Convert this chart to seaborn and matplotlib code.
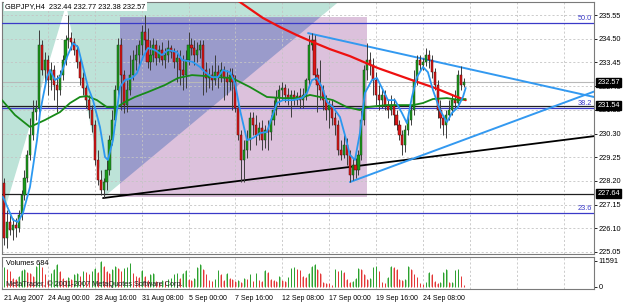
import matplotlib
matplotlib.use("Agg")
import matplotlib.pyplot as plt
import matplotlib.transforms as mtransforms
from matplotlib.patches import Polygon, Rectangle
import numpy as np
import pandas as pd
import seaborn as sns

sns.set_style("white")
plt.rcParams['font.family'] = ['Liberation Sans', 'DejaVu Sans']

# ---------------- data (GBPJPY H4, bar index 0 = 21 Aug 2007 12:00) ----------------
opens = [228.11, 225.67, 226.38, 226.02, 226.25, 226.11, 226.69, 227.58, 228.33, 229.35,
         230.23, 231.25, 231.43, 234.22, 233.11, 233.56, 232.67, 233.11, 232.45, 232.23,
         232.89, 233.56, 234.44, 234.53, 234.35, 234.00, 233.47, 232.76, 232.32, 231.78,
         231.34, 230.68, 229.13, 228.24, 227.80, 228.15, 228.68, 230.01, 230.90, 232.23,
         234.22, 232.89, 231.56, 232.23, 232.89, 233.56, 233.78, 234.22, 234.80, 234.44,
         233.47, 233.78, 234.22, 233.65, 234.00, 233.56, 233.78, 234.09, 233.91, 233.47,
         233.65, 233.11, 232.89, 233.56, 234.22, 234.09, 233.78, 234.00, 234.22, 233.11,
         232.76, 232.89, 232.67, 233.02, 232.85, 233.11, 232.76, 232.58, 232.89, 232.58,
         231.43, 230.23, 229.13, 229.57, 230.01, 230.99, 230.68, 230.23, 230.54, 230.01,
         230.46, 230.37, 230.90, 231.34, 231.87, 232.23, 232.32, 232.01, 231.87, 232.01,
         231.78, 231.96, 231.78, 232.01, 232.67, 234.22, 234.44, 232.89, 232.45, 232.23,
         231.78, 231.34, 231.56, 230.99, 230.68, 229.57, 229.35, 229.79, 229.35, 228.46,
         228.91, 228.68, 229.35, 230.90, 233.11, 233.56, 233.33, 232.67, 232.01, 231.78,
         232.01, 231.56, 231.34, 231.56, 231.12, 230.68, 230.23, 229.79, 230.46, 230.90,
         231.34, 232.67, 233.56, 233.33, 233.47, 233.78, 233.56, 233.02, 232.45, 231.34,
         230.99, 230.68, 231.12, 231.34, 231.78, 231.65, 232.89, 232.44]
highs = [228.33, 226.91, 226.69, 226.56, 226.56, 226.91, 227.80, 228.68, 229.57, 230.99,
         231.78, 231.78, 234.89, 234.44, 233.91, 233.78, 233.47, 233.33, 232.89, 233.11,
         233.78, 234.66, 235.55, 234.80, 234.53, 234.22, 233.65, 233.02, 232.45, 232.01,
         231.56, 230.90, 229.57, 228.68, 228.33, 229.13, 230.23, 231.34, 232.45, 234.53,
         234.53, 233.11, 232.67, 233.78, 234.00, 234.22, 234.44, 235.11, 235.55, 234.97,
         234.44, 234.53, 234.44, 234.22, 234.35, 234.09, 234.44, 234.22, 234.09, 234.00,
         234.00, 233.78, 234.00, 234.80, 234.53, 234.44, 234.35, 234.44, 234.44, 233.47,
         233.20, 233.33, 233.78, 233.33, 233.47, 233.29, 233.11, 233.20, 233.20, 232.89,
         231.78, 230.46, 230.01, 230.46, 231.25, 231.25, 231.12, 230.81, 230.90, 230.68,
         230.90, 231.12, 231.78, 232.23, 232.45, 232.58, 232.49, 232.32, 232.23, 232.23,
         232.14, 232.32, 232.32, 232.76, 234.66, 234.75, 234.66, 233.20, 233.56, 232.45,
         232.01, 231.78, 231.78, 231.25, 230.90, 230.01, 230.23, 230.10, 229.57, 229.22,
         229.22, 229.57, 231.34, 233.33, 234.31, 233.91, 233.65, 233.02, 232.45, 232.32,
         232.23, 231.78, 232.01, 231.87, 231.34, 230.90, 230.46, 230.68, 231.12, 231.56,
         233.11, 233.78, 233.78, 233.65, 234.09, 234.00, 233.78, 233.20, 232.67, 231.78,
         231.12, 231.34, 231.78, 232.01, 232.23, 233.11, 233.29, 232.77]
lows = [225.36, 225.23, 225.80, 225.58, 225.72, 225.94, 226.47, 227.35, 228.15, 229.13,
        230.01, 230.90, 231.25, 232.89, 232.45, 232.01, 232.23, 231.78, 231.25, 232.01,
        232.67, 233.33, 234.09, 234.00, 233.78, 233.20, 232.45, 232.01, 231.43, 230.99,
        230.37, 228.91, 228.02, 227.58, 227.44, 227.80, 228.46, 229.79, 230.68, 232.01,
        231.34, 231.21, 231.25, 232.01, 232.67, 233.11, 233.33, 233.78, 234.00, 233.20,
        233.11, 233.47, 233.33, 233.47, 233.33, 233.20, 233.47, 233.65, 233.20, 232.58,
        232.45, 232.23, 232.32, 233.33, 233.78, 233.33, 233.47, 233.65, 232.01, 232.14,
        232.32, 232.23, 232.45, 232.32, 232.58, 231.78, 232.01, 232.23, 231.34, 231.25,
        230.01, 228.15, 228.15, 229.22, 229.57, 230.23, 229.79, 230.01, 229.57, 229.66,
        229.57, 230.01, 230.68, 231.12, 231.56, 231.78, 231.70, 231.56, 231.03, 231.56,
        231.56, 231.43, 231.43, 231.78, 232.45, 234.00, 232.67, 231.25, 231.78, 231.34,
        230.90, 230.54, 230.68, 230.23, 229.35, 229.13, 229.22, 228.91, 228.15, 228.24,
        228.33, 228.46, 229.13, 230.68, 232.67, 232.89, 232.01, 231.56, 231.34, 231.43,
        231.34, 230.99, 231.12, 230.68, 230.46, 230.01, 229.35, 229.48, 230.23, 230.68,
        231.12, 232.45, 233.11, 233.11, 233.29, 233.20, 232.76, 232.23, 230.99, 230.54,
        230.23, 230.10, 230.90, 231.12, 231.43, 231.56, 232.23, 232.38]
closes = [225.67, 226.38, 226.02, 226.25, 226.11, 226.69, 227.58, 228.33, 229.35, 230.23,
          231.25, 231.43, 234.22, 233.11, 233.56, 232.67, 233.11, 232.45, 232.23, 232.89,
          233.56, 234.44, 234.53, 234.35, 234.00, 233.47, 232.76, 232.32, 231.78, 231.34,
          230.68, 229.13, 228.24, 227.80, 228.15, 228.68, 230.01, 230.90, 232.23, 234.22,
          232.89, 231.56, 232.23, 232.89, 233.56, 233.78, 234.22, 234.80, 234.44, 233.47,
          233.78, 234.22, 233.65, 234.00, 233.56, 233.78, 234.09, 233.91, 233.47, 233.65,
          233.11, 232.89, 233.56, 234.22, 234.09, 233.78, 234.00, 234.22, 233.11, 232.76,
          232.89, 232.67, 233.02, 232.85, 233.11, 232.76, 232.58, 232.89, 232.58, 231.43,
          230.23, 229.13, 229.57, 230.01, 230.99, 230.68, 230.23, 230.54, 230.01, 230.46,
          230.37, 230.90, 231.34, 231.87, 232.23, 232.32, 232.01, 231.87, 232.01, 231.78,
          231.96, 231.78, 232.01, 232.67, 234.22, 234.44, 232.89, 232.45, 232.23, 231.78,
          231.34, 231.56, 230.99, 230.68, 229.57, 229.35, 229.79, 229.35, 228.46, 228.91,
          228.68, 229.35, 230.90, 233.11, 233.56, 233.33, 232.67, 232.01, 231.78, 232.01,
          231.56, 231.34, 231.56, 231.12, 230.68, 230.23, 229.79, 230.46, 230.90, 231.34,
          232.67, 233.56, 233.33, 233.47, 233.78, 233.56, 233.02, 232.45, 231.34, 230.99,
          230.68, 231.12, 231.34, 231.78, 231.65, 232.89, 232.44, 232.57]
volumes = [9000, 8000, 7000, 4000, 3500, 5000, 7500, 8000, 6500, 6000,
           5000, 9500, 10500, 9000, 5500, 3000, 6000, 8000, 10000, 7000,
           4000, 3000, 4500, 3500, 5500, 6000, 5000, 7000, 6500, 5500,
           7000, 8500, 6500, 11591, 9500, 7000, 6000, 8000, 9500, 8500,
           7000, 8500, 9000, 10500, 6000, 5000, 4500, 7500, 5000, 3000,
           5500, 6000, 2500, 2000, 3000, 2500, 3500, 4000, 5500, 6000,
           4000, 6000, 7500, 3500, 3000, 4000, 9000, 10000, 8000, 5500,
           3000, 2500, 3500, 7500, 5500, 3000, 6000, 4000, 3500, 2500,
           3000, 2000, 4000, 3500, 5500, 2500, 6000, 3000, 2500, 7500,
           6500, 3500, 3000, 2500, 5000, 3000, 2500, 4500, 8500, 9000,
           8000, 7500, 5000, 4500, 6000, 9500, 10000, 8000, 6000, 2000,
           1500, 1500, 1000, 8000, 7000, 7500, 6500, 3500, 2000, 2500,
           4000, 8500, 8000, 5500, 3500, 4000, 9000, 9500, 7000, 2000,
           1800, 4500, 9500, 9000, 8000, 3500, 3000, 3500, 9500, 8000,
           5500, 4500, 1500, 1200, 2000, 6500, 5500, 2500, 1800, 2000,
           6500, 8000, 2000, 2200, 7500, 7800, 5000, 684]

# moving averages (bar, price)
ma_fast_bar = [-0.34, 3.07, 4.78, 6.48, 8.87, 9.90, 11.26, 12.29, 13.31, 14.68, 15.70, 17.41, 19.11,
               21.50, 23.55, 25.26, 26.96, 28.67, 30.38, 32.76, 34.47, 35.49, 37.20, 38.57, 39.59,
               41.30, 43.69, 45.39, 47.44, 49.15, 51.54, 53.92, 55.97, 59.04, 60.75, 64.51, 66.89,
               68.60, 70.99, 73.04, 74.74, 77.13, 78.84, 80.55, 82.94, 84.98, 87.37, 89.76, 91.47,
               93.17, 95.22, 98.63, 101.71, 103.41, 105.12, 106.83, 108.53, 110.24, 112.29, 114.68,
               116.38, 118.09, 119.80, 121.50, 123.21, 125.60, 127.30, 129.01, 131.06, 133.45,
               135.84, 137.54, 139.25, 140.96, 143.00, 144.71, 146.42, 148.81, 151.19, 152.90,
               154.95, 156.66, 157.6]
ma_fast_val = [227.49, 226.47, 226.38, 226.78, 227.93, 228.82, 230.01, 231.21, 231.92, 232.80, 233.11,
               232.67, 232.80, 233.69, 234.31, 234.13, 233.25, 232.36, 231.78, 230.59, 229.26, 229.13,
               230.01, 231.34, 232.36, 232.67, 232.76, 232.98, 233.69, 234.09, 234.00, 233.78, 234.00,
               233.91, 233.56, 233.47, 233.25, 233.02, 232.80, 232.80, 233.11, 233.02, 232.54, 231.34,
               230.01, 230.10, 230.32, 230.37, 231.03, 231.65, 231.78, 231.78, 231.87, 232.10, 232.67,
               232.76, 232.36, 231.70, 231.47, 231.03, 230.23, 229.35, 229.13, 230.32, 232.10, 232.67,
               232.76, 232.32, 231.78, 231.78, 231.21, 230.76, 231.92, 232.80, 233.25, 233.02, 232.23,
               231.34, 230.81, 231.21, 231.47, 231.92, 232.32]
ma_mid_bar = [-0.68, 3.75, 8.87, 13.99, 19.11, 22.53, 25.94, 28.33, 31.74, 35.15, 38.57, 41.30, 44.71,
              49.15, 54.95, 59.39, 64.16, 68.60, 73.04, 77.82, 83.96, 89.76, 95.22, 101.02, 104.44,
              107.85, 112.29, 117.06, 121.50, 123.89, 130.72, 139.59, 143.00, 146.42, 151.19, 155.63, 157.6]
ma_mid_val = [231.78, 231.12, 230.59, 230.90, 231.25, 231.65, 231.92, 231.96, 231.78, 231.47, 231.47,
              231.70, 231.92, 232.14, 232.45, 232.76, 232.89, 232.85, 232.80, 232.76, 232.36, 231.92,
              231.87, 231.87, 232.01, 231.92, 231.78, 231.47, 231.34, 231.47, 231.56, 231.56, 231.65,
              231.83, 231.87, 231.78, 231.83]
ma_slow_bar = [77.13, 79.52, 88.40, 94.20, 100.00, 105.46, 111.26, 118.09, 127.65, 139.25, 147.10, 153.90, 157.6]
ma_slow_val = [236.35, 236.22, 235.42, 235.02, 234.66, 234.35, 234.04, 233.73, 233.20, 232.67, 232.32, 231.96, 231.78]

# chart objects (time in bars, price)
teal_bar = [-2.0, 118.5, 34.5, 21.2, -2.0]
teal_price = [236.6, 236.6, 227.53, 236.0, 225.94]
rect_bar = [39.6, 123.9]
rect_price = [227.49, 235.46]
black_ray = [(33.8, 227.44), (118.1, 228.82)]
blue_upper = [(103.8, 234.75), (198.3, 232.01)]
blue_lower = [(118.1, 228.15), (198.3, 232.01)]
fib_levels = [235.20, 231.45, 226.78]
fib_labels = ["50.0", "38.2", "23.6"]
hline_black = [231.54, 227.64]
bid_price = 232.57

tick_bars = [0, 15, 31, 47, 63, 79, 95, 111, 127, 143]
tick_labels = ["21 Aug 2007", "24 Aug 00:00", "28 Aug 16:00", "31 Aug 08:00", "5 Sep 00:00",
               "7 Sep 16:00", "12 Sep 08:00", "17 Sep 00:00", "19 Sep 16:00", "24 Sep 08:00"]
grid_bars = [15, 31, 47, 63, 79, 95, 111, 127, 143, 159, 175, 191]
price_ticks = [235.55, 234.50, 233.45, 232.40, 231.35, 230.30, 229.25, 228.20, 227.15, 226.10, 225.05]
vol_max_label = 11591

# ---------------- layout ----------------
W, H = 625, 305
fig = plt.figure(figsize=(W / 100, H / 100), dpi=100)
fig.patch.set_facecolor('white')

def frect(x0, y0, x1, y1):
    return [x0 / W, 1 - y1 / H, (x1 - x0) / W, (y1 - y0) / H]

ax = fig.add_axes(frect(2, 2, 594, 254))
ax2 = fig.add_axes(frect(2, 257, 594, 289), sharex=ax)
XMIN, XMAX = -0.68, 201.4
ax.set_xlim(XMIN, XMAX)
ax.set_ylim(224.96, 236.13)
ax2.set_ylim(-1000, 13300)

FS = 5.3
grid_kw = dict(color='#c4c4c4', lw=0.6, ls=(0, (2.5, 2.5)))

# shaded objects
ax.add_patch(Polygon(list(zip(teal_bar, teal_price)), closed=True, fc='#bde3d8', ec='none', zorder=0))
ax.add_patch(Rectangle((rect_bar[0], rect_price[0]), rect_bar[1] - rect_bar[0],
                       rect_price[1] - rect_price[0], fc='#dcc1dc', ec='none', zorder=0.5))
# overlap of teal triangle and rectangle
s = (teal_price[1] - teal_price[2]) / (teal_bar[1] - teal_bar[2])
y_left = teal_price[2] + (rect_bar[0] - teal_bar[2]) * s
x_top = teal_bar[2] + (rect_price[1] - teal_price[2]) / s
ax.add_patch(Polygon([(rect_bar[0], rect_price[1]), (x_top, rect_price[1]), (rect_bar[0], y_left)],
                     closed=True, fc='#9a9bcb', ec='none', zorder=0.6))

# grid
for p in price_ticks:
    ax.axhline(p, zorder=1, **grid_kw)
for b in grid_bars:
    ax.axvline(b, zorder=1, **grid_kw)
    ax2.axvline(b, zorder=1, **grid_kw)

# horizontal lines
for lvl, lab in zip(fib_levels, fib_labels):
    ax.axhline(lvl, color='#3a3ac8', lw=0.9, zorder=3)
    ax.text(0.997, lvl + 0.04, lab, transform=mtransforms.blended_transform_factory(ax.transAxes, ax.transData),
            ha='right', va='bottom', fontsize=FS, color='#3a3ac8', zorder=7)
for lvl in hline_black:
    ax.axhline(lvl, color='#202020', lw=0.9, zorder=3)
ax.axhline(bid_price, color='#b8b8b8', lw=0.8, zorder=2.5)

# trend lines (rays to the right edge)
def ray(pts):
    (x0, y0), (x1, y1) = pts
    k = (y1 - y0) / (x1 - x0)
    return [x0, XMAX + 1], [y0, y0 + k * (XMAX + 1 - x0)]

xs, ys = ray(black_ray)
ax.plot(xs, ys, color='black', lw=1.3, zorder=4)
for pts in (blue_upper, blue_lower):
    xs, ys = ray(pts)
    ax.plot(xs, ys, color='#3399f0', lw=1.4, zorder=4)

# candles
df = pd.DataFrame({'o': opens, 'h': highs, 'l': lows, 'c': closes})
df['i'] = np.arange(len(df))
up = df['c'] >= df['o']
ax.vlines(df['i'], df['l'], df['h'], color='#3c3c3c', lw=0.7, zorder=5)
body_bot = df[['o', 'c']].min(axis=1)
body_h = (df['c'] - df['o']).abs().clip(lower=0.03)
ax.bar(df['i'][up], body_h[up], bottom=body_bot[up], width=0.72, color='#189a18',
       edgecolor='#1f3f1f', linewidth=0.35, zorder=5.5)
ax.bar(df['i'][~up], body_h[~up], bottom=body_bot[~up], width=0.72, color='#dd1515',
       edgecolor='#4a1010', linewidth=0.35, zorder=5.5)

# moving averages via seaborn
sns.lineplot(x=ma_slow_bar, y=ma_slow_val, ax=ax, color='#ee1010', lw=1.6, sort=False,
             estimator=None, legend=False, zorder=6)
sns.lineplot(x=ma_mid_bar, y=ma_mid_val, ax=ax, color='#178a17', lw=1.3, sort=False,
             estimator=None, legend=False, zorder=6)
sns.lineplot(x=ma_fast_bar, y=ma_fast_val, ax=ax, color='#2b98f0', lw=1.3, sort=False,
             estimator=None, legend=False, zorder=6.2)

# volumes
vol = pd.DataFrame({'i': np.arange(len(volumes)), 'v': volumes})
vup = vol['v'].diff().fillna(1) > 0
ax2.bar(vol['i'][vup], vol['v'][vup], width=0.9, color='#7fcc7f', zorder=3)
ax2.bar(vol['i'][~vup], vol['v'][~vup], width=0.9, color='#f19494', zorder=3)
ax2.vlines(vol['i'][vup], 0, vol['v'][vup], color='#16961a', lw=0.6, zorder=3.5)
ax2.vlines(vol['i'][~vup], 0, vol['v'][~vup], color='#e01f1f', lw=0.6, zorder=3.5)

# texts
ax.text(0.005, 0.983, "GBPJPY,H4  232.44 232.77 232.38 232.57", transform=ax.transAxes,
        ha='left', va='center', fontsize=FS, color='black', zorder=8,
        bbox=dict(fc='white', ec='none', pad=1.0))
ax2.text(0.006, 0.80, "Volumes 684", transform=ax2.transAxes, ha='left', va='center',
         fontsize=FS, color='black', zorder=8)
ax2.text(0.006, 0.14, "MetaTrader, \u00a9 2001-2007 MetaQuotes Software Corp.", transform=ax2.transAxes,
         ha='left', va='center', fontsize=FS, color='#202020', zorder=8)

# axes styling
for a in (ax, ax2):
    for sp in a.spines.values():
        sp.set_color('#7a7a7a')
        sp.set_linewidth(0.8)
    a.yaxis.tick_right()
    a.tick_params(axis='y', which='both', length=2, width=0.6, pad=1.5, labelsize=FS, colors='black')

ax.set_yticks(price_ticks)
ax.set_yticklabels([f"{p:.2f}" for p in price_ticks])
ax.tick_params(axis='x', which='both', bottom=False, labelbottom=False)
ax2.set_yticks([vol_max_label, 0])
ax2.set_yticklabels([str(vol_max_label), "0"])
ax2.set_xticks(tick_bars)
ax2.set_xticklabels(tick_labels, ha='left')
ax2.tick_params(axis='x', length=2.5, width=0.6, pad=1.5, labelsize=5.0, colors='black')
ax.set_xlim(XMIN, XMAX)
ax.set_ylabel('')
ax2.set_ylabel('')
ax2.set_xlabel('')

# price boxes on the right axis
tr = mtransforms.blended_transform_factory(ax.transAxes, ax.transData)
for p in [bid_price] + hline_black:
    ax.text(1.006, p, f"{p:.2f}", transform=tr, ha='left', va='center', fontsize=FS,
            color='white', zorder=9, clip_on=False,
            bbox=dict(fc='black', ec='black', pad=0.8))

fig.savefig("out.png", dpi=100, facecolor='white')
